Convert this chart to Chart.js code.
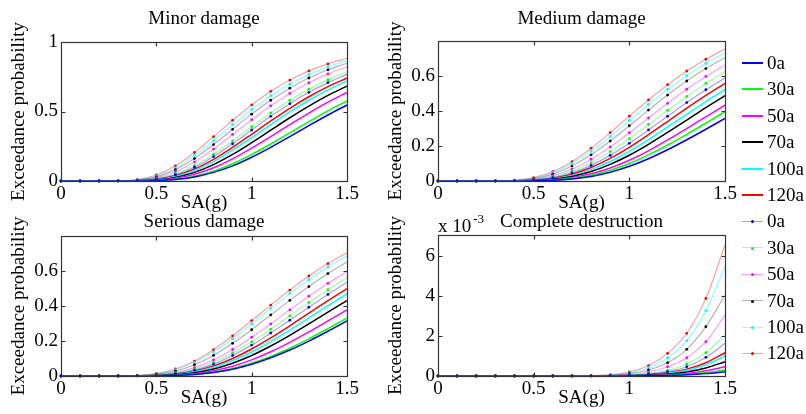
<!DOCTYPE html>
<html><head><meta charset="utf-8">
<script src="https://cdn.jsdelivr.net/npm/chart.js@4.4.1/dist/chart.umd.min.js"></script>
<style>
html,body{margin:0;padding:0;background:#fff;}
body{width:806px;height:414px;position:relative;overflow:hidden;font-family:'Liberation Serif','Times New Roman',serif;}
canvas{position:absolute;}
.leg{position:absolute;left:742px;height:20px;display:flex;align-items:center;font-size:19px;color:#000;white-space:nowrap;}
.leg .ln{width:21px;height:0;position:relative;margin-right:4px;}
.leg .dot{position:absolute;left:9px;top:-1.5px;width:3px;height:3px;border-radius:50%;}
</style></head><body>
<canvas id="c1" width="400" height="214" style="left:0;top:0"></canvas>
<canvas id="c2" width="380" height="214" style="left:377px;top:0"></canvas>
<canvas id="c3" width="400" height="209" style="left:0;top:200px"></canvas>
<canvas id="c4" width="380" height="209" style="left:377px;top:200px"></canvas>
<div id="legend"></div>
<script>
// ---- data ----
const xValues = [0,0.1,0.2,0.3,0.4,0.5,0.6,0.7,0.8,0.9,1.0,1.1,1.2,1.3,1.4,1.5];
const ageLabels = ['0a','30a','50a','70a','100a','120a'];

// Minor damage: solid curves
const minor_0a   = [0,0,0,0,0.0004,0.0027,0.0106,0.029,0.062,0.109,0.171,0.242,0.319,0.398,0.475,0.547];
const minor_30a  = [0,0,0,0,0.0005,0.0034,0.013,0.034,0.071,0.124,0.191,0.266,0.346,0.427,0.505,0.577];
const minor_50a  = [0,0,0,0,0.0008,0.0053,0.019,0.048,0.095,0.159,0.236,0.320,0.406,0.489,0.567,0.637];
const minor_70a  = [0,0,0,0.0001,0.0013,0.0076,0.026,0.062,0.118,0.191,0.276,0.366,0.455,0.539,0.616,0.683];
const minor_100a = [0,0,0,0.0001,0.0018,0.0101,0.033,0.076,0.140,0.222,0.312,0.406,0.497,0.581,0.655,0.720];
const minor_120a = [0,0,0,0.0002,0.0022,0.012,0.038,0.086,0.156,0.242,0.336,0.432,0.523,0.606,0.679,0.741];
// Minor damage: marked curves
const minorM_0a   = [0,0,0,0.0002,0.0029,0.0149,0.045,0.099,0.176,0.268,0.367,0.465,0.556,0.638,0.708,0.767];
const minorM_30a  = [0,0,0,0.0003,0.0035,0.0174,0.052,0.111,0.193,0.289,0.391,0.490,0.581,0.661,0.729,0.786];
const minorM_50a  = [0,0,0,0.0004,0.0051,0.0238,0.067,0.137,0.230,0.335,0.441,0.541,0.630,0.707,0.771,0.822];
const minorM_70a  = [0,0,0,0.0006,0.0067,0.030,0.081,0.161,0.262,0.372,0.481,0.581,0.668,0.741,0.800,0.847];
const minorM_100a = [0,0,0,0.0008,0.0085,0.036,0.094,0.182,0.290,0.405,0.515,0.614,0.698,0.767,0.823,0.866];
const minorM_120a = [0,0,0,0.0011,0.0106,0.043,0.109,0.205,0.319,0.437,0.547,0.645,0.726,0.792,0.843,0.883];

// Medium damage
const medium_0a   = [0,0,0,0,0.0001,0.0009,0.0039,0.0115,0.026,0.050,0.084,0.127,0.178,0.235,0.295,0.357];
const medium_30a  = [0,0,0,0,0.0002,0.0013,0.0053,0.015,0.033,0.061,0.100,0.149,0.205,0.266,0.330,0.395];
const medium_50a  = [0,0,0,0,0.0003,0.0018,0.0069,0.019,0.041,0.074,0.118,0.172,0.234,0.299,0.366,0.433];
const medium_70a  = [0,0,0,0,0.0004,0.0027,0.010,0.026,0.054,0.095,0.147,0.209,0.277,0.347,0.418,0.486];
const medium_100a = [0,0,0,0,0.0006,0.0036,0.0127,0.032,0.065,0.111,0.169,0.236,0.308,0.381,0.453,0.522];
const medium_120a = [0,0,0,0.0001,0.0008,0.0046,0.016,0.039,0.077,0.129,0.192,0.264,0.339,0.415,0.488,0.557];
const mediumM_0a   = [0,0,0,0.0001,0.001,0.0058,0.019,0.046,0.089,0.146,0.215,0.291,0.369,0.447,0.520,0.589];
const mediumM_30a  = [0,0,0,0.0001,0.0014,0.0075,0.024,0.056,0.104,0.168,0.242,0.322,0.403,0.482,0.556,0.623];
const mediumM_50a  = [0,0,0,0.0002,0.0019,0.0098,0.030,0.068,0.124,0.194,0.275,0.359,0.443,0.523,0.596,0.661];
const mediumM_70a  = [0,0,0,0.0002,0.0028,0.0134,0.039,0.085,0.149,0.228,0.315,0.404,0.490,0.570,0.641,0.703];
const mediumM_100a = [0,0,0,0.0003,0.0036,0.0166,0.047,0.099,0.170,0.254,0.345,0.436,0.523,0.602,0.671,0.731];
const mediumM_120a = [0,0,0,0.0004,0.0044,0.0194,0.054,0.110,0.187,0.276,0.370,0.462,0.549,0.627,0.694,0.752];

// Serious damage
const serious_0a   = [0,0,0,0,0.0001,0.0006,0.0027,0.0084,0.020,0.039,0.067,0.104,0.148,0.199,0.255,0.314];
const serious_30a  = [0,0,0,0,0.0001,0.0007,0.0032,0.0095,0.022,0.043,0.073,0.112,0.159,0.212,0.270,0.330];
const serious_50a  = [0,0,0,0,0.0001,0.0011,0.0046,0.013,0.030,0.056,0.092,0.138,0.192,0.251,0.314,0.377];
const serious_70a  = [0,0,0,0,0.0002,0.0017,0.0068,0.019,0.040,0.073,0.117,0.171,0.232,0.297,0.364,0.430];
const serious_100a = [0,0,0,0,0.0004,0.0024,0.0089,0.024,0.050,0.088,0.137,0.197,0.262,0.331,0.401,0.469];
const serious_120a = [0,0,0,0,0.0005,0.003,0.0108,0.028,0.057,0.100,0.154,0.217,0.286,0.358,0.429,0.498];
const seriousM_0a   = [0,0,0,0,0.0006,0.0039,0.0137,0.034,0.068,0.117,0.176,0.245,0.318,0.392,0.465,0.534];
const seriousM_30a  = [0,0,0,0,0.0008,0.0048,0.0163,0.040,0.078,0.131,0.195,0.267,0.343,0.419,0.492,0.561];
const seriousM_50a  = [0,0,0,0,0.0011,0.0062,0.020,0.048,0.092,0.151,0.221,0.297,0.377,0.455,0.528,0.596];
const seriousM_70a  = [0,0,0,0,0.0017,0.0091,0.028,0.064,0.117,0.186,0.264,0.348,0.431,0.510,0.584,0.650];
const seriousM_100a = [0,0,0,0,0.0024,0.0118,0.035,0.078,0.138,0.214,0.298,0.385,0.471,0.550,0.622,0.686];
const seriousM_120a = [0,0,0,0.0002,0.0028,0.0134,0.040,0.085,0.150,0.229,0.316,0.404,0.490,0.570,0.641,0.703];

// Complete destruction (values in units of 10^-3)
const complete_0a   = [0,0,0,0,0,0,0,0,0,0.001,0.004,0.012,0.028,0.06,0.12,0.21];
const complete_30a  = [0,0,0,0,0,0,0,0,0,0.002,0.006,0.016,0.04,0.085,0.17,0.30];
const complete_50a  = [0,0,0,0,0,0,0,0,0.001,0.003,0.01,0.025,0.06,0.13,0.26,0.46];
const complete_70a  = [0,0,0,0,0,0,0,0,0.001,0.005,0.016,0.04,0.095,0.2,0.4,0.71];
const complete_100a = [0,0,0,0,0,0,0,0,0.002,0.007,0.023,0.06,0.14,0.29,0.56,1.0];
const complete_120a = [0,0,0,0,0,0,0,0,0.002,0.008,0.027,0.07,0.16,0.34,0.66,1.16];
const completeM_0a   = [0,0,0,0,0,0,0,0,0.003,0.012,0.04,0.1,0.22,0.46,0.93,1.63];
const completeM_30a  = [0,0,0,0,0,0,0,0.001,0.004,0.015,0.05,0.125,0.28,0.6,1.16,2.04];
const completeM_50a  = [0,0,0,0,0,0,0,0.001,0.006,0.024,0.08,0.2,0.46,0.91,1.71,3.04];
const completeM_70a  = [0,0,0,0,0,0,0,0.002,0.009,0.035,0.115,0.3,0.66,1.33,2.46,4.04];
const completeM_100a = [0,0,0,0,0,0,0.001,0.003,0.013,0.05,0.16,0.42,0.91,1.76,3.26,5.45];
const completeM_120a = [0,0,0,0,0,0,0.001,0.004,0.018,0.065,0.2,0.52,1.13,2.13,3.87,6.53];

const xTicks = [0, 0.5, 1, 1.5];

// ---- styles ----
const solidColors = ['#0000ff','#00ff00','#ff00ff','#000000','#00ffff','#ff0000'];
const lightColors = ['rgba(0,0,255,0.38)','rgba(0,255,0,0.38)','rgba(255,0,255,0.38)','rgba(0,0,0,0.3)','rgba(0,255,255,0.45)','rgba(255,0,0,0.38)'];
const FONT = "'Liberation Serif','Times New Roman',serif";
const F19 = {family: FONT, size: 19, weight: 'normal'};
Chart.defaults.font.family = FONT;
Chart.defaults.font.size = 19;
Chart.defaults.color = '#000';
const fmt = v => String(+Number(v).toFixed(4));

const boxPlugin = {
  id: 'matlabBox',
  afterDraw(chart, args, opts) {
    const {ctx, chartArea: a, scales} = chart;
    ctx.save();
    ctx.strokeStyle = '#333';
    ctx.lineWidth = 1.2;
    const L = Math.round(a.left)+0.5, R = Math.round(a.right)+0.5, T = Math.round(a.top)+0.5, B = Math.round(a.bottom)+0.5;
    ctx.strokeRect(L, T, R-L, B-T);
    const len = 4;
    ctx.beginPath();
    scales.x.ticks.forEach(t => {
      const p = Math.round(scales.x.getPixelForValue(t.value))+0.5;
      if (p <= L+1 || p >= R-1) return;
      ctx.moveTo(p, B); ctx.lineTo(p, B-len);
      ctx.moveTo(p, T); ctx.lineTo(p, T+len);
    });
    scales.y.ticks.forEach(t => {
      const p = Math.round(scales.y.getPixelForValue(t.value))+0.5;
      if (p <= T+1 || p >= B-1) return;
      ctx.moveTo(L, p); ctx.lineTo(L+len, p);
      ctx.moveTo(R, p); ctx.lineTo(R-len, p);
    });
    ctx.stroke();
    if (opts && opts.exponent) {
      ctx.fillStyle = '#000';
      ctx.textBaseline = 'alphabetic';
      ctx.textAlign = 'left';
      ctx.font = "19px " + FONT;
      ctx.fillText('x 10', a.left, a.top - 3);
      const w = ctx.measureText('x 10').width;
      ctx.font = "13px " + FONT;
      ctx.fillText(opts.exponent, a.left + w + 2, a.top - 12);
    }
    ctx.restore();
  }
};

function makeChart(id, title, solids, lights, yMax, yStep, pad, exponent) {
  const datasets = [];
  solids.forEach((arr, i) => datasets.push({
    label: ageLabels[i],
    data: xValues.map((x, k) => ({x: x, y: arr[k]})),
    borderColor: solidColors[i], backgroundColor: solidColors[i],
    borderWidth: 1.5, pointRadius: 0, cubicInterpolationMode: 'monotone', clip: 6, order: 2
  }));
  lights.forEach((arr, i) => datasets.push({
    label: ageLabels[i],
    data: xValues.map((x, k) => ({x: x, y: arr[k]})),
    borderColor: lightColors[i], backgroundColor: solidColors[i],
    pointBackgroundColor: solidColors[i], pointBorderWidth: 0,
    pointRadius: ctx => (ctx.dataIndex < xValues.length - 1 ? 1.4 : 0),
    borderWidth: 1.2, cubicInterpolationMode: 'monotone', clip: 6, order: 1
  }));
  return new Chart(document.getElementById(id), {
    type: 'line',
    data: {datasets},
    plugins: [boxPlugin],
    options: {
      responsive: false, animation: false, devicePixelRatio: 1,
      layout: {padding: {left: 0, right: pad.right, top: 0, bottom: 0}},
      plugins: {
        legend: {display: false}, tooltip: {enabled: false},
        title: {display: true, text: title, fullSize: false, font: F19, color: '#000',
                padding: {top: pad.tTop, bottom: pad.tBottom}},
        matlabBox: {exponent: exponent}
      },
      scales: {
        x: {
          type: 'linear', min: 0, max: 1.5,
          afterBuildTicks: s => { s.ticks = xTicks.map(v => ({value: v})); },
          ticks: {padding: 2, maxRotation: 0, font: F19, color: '#000', callback: fmt},
          grid: {display: false, drawTicks: false}, border: {display: false},
          title: {display: true, text: 'SA(g)', font: F19, color: '#000', padding: {top: 0, bottom: 0}},
          afterFit: s => { s.height = 33; }
        },
        y: {
          type: 'linear', min: 0, max: yMax,
          ticks: {stepSize: yStep, includeBounds: false, padding: 3, font: F19, color: '#000', callback: fmt},
          grid: {display: false, drawTicks: false}, border: {display: false},
          title: {display: true, text: 'Exceedance probability', font: F19, color: '#000', padding: {top: 7.6, bottom: 0}},
          afterFit: s => { s.width = 61; }
        }
      }
    }
  });
}

makeChart('c1', 'Minor damage',
  [minor_0a, minor_30a, minor_50a, minor_70a, minor_100a, minor_120a],
  [minorM_0a, minorM_30a, minorM_50a, minorM_70a, minorM_100a, minorM_120a],
  1, 0.5, {right: 53, tTop: 7.6, tBottom: 11.6});
makeChart('c2', 'Medium damage',
  [medium_0a, medium_30a, medium_50a, medium_70a, medium_100a, medium_120a],
  [mediumM_0a, mediumM_30a, mediumM_50a, mediumM_70a, mediumM_100a, mediumM_120a],
  0.798, 0.2, {right: 32, tTop: 7.6, tBottom: 10.6});
makeChart('c3', 'Serious damage',
  [serious_0a, serious_30a, serious_50a, serious_70a, serious_100a, serious_120a],
  [seriousM_0a, seriousM_30a, seriousM_50a, seriousM_70a, seriousM_100a, seriousM_120a],
  0.798, 0.2, {right: 53, tTop: 10.6, tBottom: 2.6});
makeChart('c4', 'Complete destruction',
  [complete_0a, complete_30a, complete_50a, complete_70a, complete_100a, complete_120a],
  [completeM_0a, completeM_30a, completeM_50a, completeM_70a, completeM_100a, completeM_120a],
  7.03, 2, {right: 32, tTop: 10.6, tBottom: 1.6}, '-3');

// ---- figure legend ----
const legend = document.getElementById('legend');
const legendTop = 63, legendStep = 26.4;
for (let j = 0; j < 12; j++) {
  const i = j % 6, light = j >= 6;
  const row = document.createElement('div');
  row.className = 'leg';
  row.style.top = (legendTop + j * legendStep - 10) + 'px';
  const ln = document.createElement('span');
  ln.className = 'ln';
  ln.style.borderTop = light ? ('1px solid ' + lightColors[i]) : ('2px solid ' + solidColors[i]);
  if (light) {
    const d = document.createElement('span');
    d.className = 'dot';
    d.style.background = solidColors[i];
    ln.appendChild(d);
  }
  row.appendChild(ln);
  const tx = document.createElement('span');
  tx.textContent = ageLabels[i];
  row.appendChild(tx);
  legend.appendChild(row);
}
</script>
</body></html>
